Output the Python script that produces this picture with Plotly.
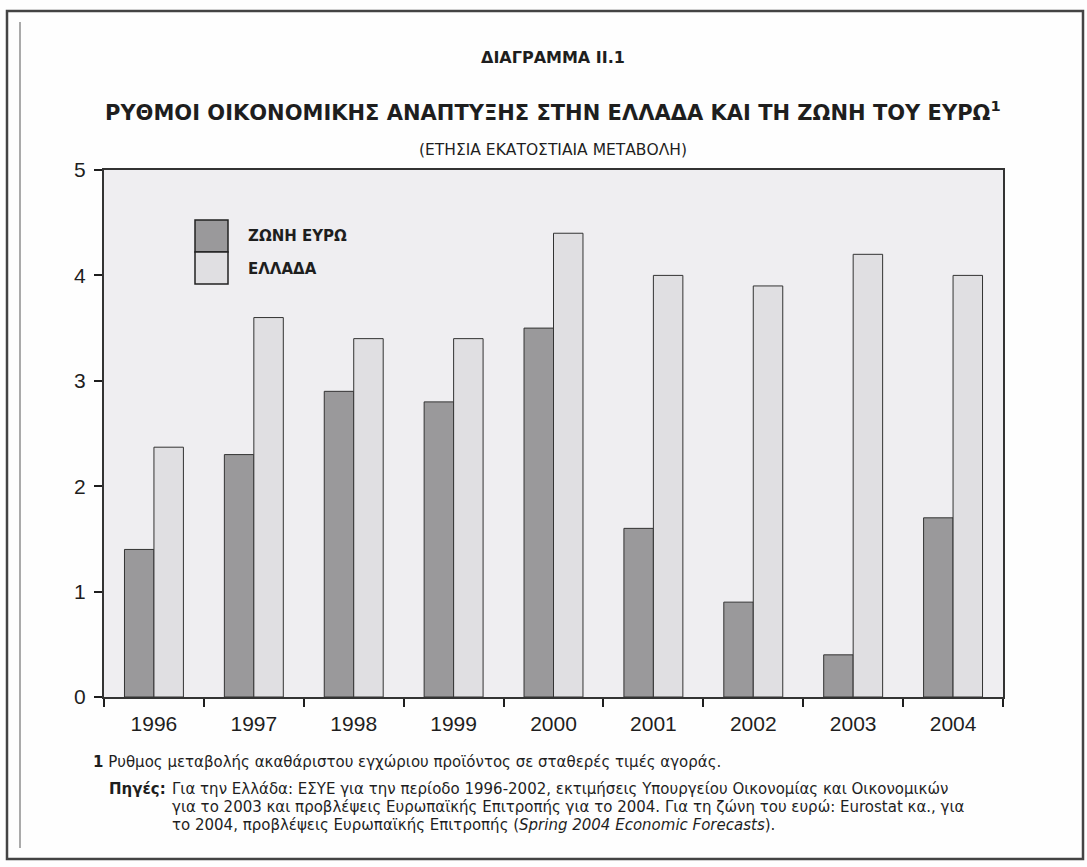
import plotly.graph_objects as go

# Annual real GDP growth, % change
years = ["1996", "1997", "1998", "1999", "2000", "2001", "2002", "2003", "2004"]
euro_area = [1.4, 2.3, 2.9, 2.8, 3.5, 1.6, 0.9, 0.4, 1.7]
greece = [2.37, 3.6, 3.4, 3.4, 4.4, 4.0, 3.9, 4.2, 4.0]
series_names = ["ΖΩΝΗ ΕΥΡΩ", "ΕΛΛΑΔΑ"]
y_ticks = [0, 1, 2, 3, 4, 5]

W, H = 1087, 867
L, R, T, B = 104, 1003, 170, 697  # plot area in pixels

DARK = "#9a999b"
LIGHT = "#e0dfe2"
PLOT_BG = "#efeef1"
INK = "#1e1e1e"


def px(x):
    return (x - L) / (R - L)


def py(y):
    return (B - y) / (B - T)


fig = go.Figure()
fig.add_trace(go.Bar(x=years, y=euro_area, name=series_names[0],
                     marker=dict(color=DARK, line=dict(color="#333333", width=1))))
fig.add_trace(go.Bar(x=years, y=greece, name=series_names[1],
                     marker=dict(color=LIGHT, line=dict(color="#333333", width=1))))

tick_font = dict(family="Liberation Sans, Arial, sans-serif", size=21, color=INK)

fig.update_layout(
    width=W, height=H,
    margin=dict(l=L, r=W - R, t=T, b=H - B),
    paper_bgcolor="#fefefe",
    plot_bgcolor=PLOT_BG,
    showlegend=False,
    barmode="group",
    bargap=0.41,
    bargroupgap=0,
    xaxis=dict(type="category", tickson="boundaries", ticks="outside", ticklen=8,
               tickcolor=INK, tickwidth=1.5, showline=True, linecolor="#333333",
               linewidth=2, mirror=True, showgrid=False, tickfont=tick_font,
               ticklabelstandoff=7),
    yaxis=dict(range=[0, 5], tickvals=y_ticks, ticks="outside", ticklen=8,
               tickcolor=INK, tickwidth=1.5, showline=True, linecolor="#333333",
               linewidth=2, mirror=True, showgrid=False, zeroline=False,
               tickfont=tick_font, ticklabelstandoff=4),
    yaxis2=dict(range=[0, 5], tickvals=y_ticks, overlaying="y", side="right",
                ticks="outside", ticklen=10, tickcolor=INK, tickwidth=1.5,
                showline=False, showgrid=False, zeroline=False,
                tickfont=tick_font, ticklabelstandoff=12),
)

# Outer frame and inner left rule
shapes = [
    dict(type="rect", xref="paper", yref="paper", x0=px(7), x1=px(1083), y0=py(859), y1=py(11),
         line=dict(color="#444444", width=2.5), fillcolor="rgba(0,0,0,0)", layer="below"),
    dict(type="line", xref="paper", yref="paper", x0=px(20), x1=px(20), y0=py(848), y1=py(22),
         line=dict(color="#aaaaaa", width=2)),
]

# Legend swatches stacked in one box
for i, col in enumerate([DARK, LIGHT]):
    y_top = 220 + i * 32
    shapes.append(dict(type="rect", xref="paper", yref="paper",
                       x0=px(195), x1=px(228), y0=py(y_top + 32), y1=py(y_top),
                       fillcolor=col, line=dict(color="#222222", width=1.5)))

fig.update_layout(shapes=shapes)

annotations = []
for i, name in enumerate(series_names):
    annotations.append(dict(xref="paper", yref="paper", x=px(246), y=py(236 + i * 33),
                            text=name, showarrow=False, xanchor="left", yanchor="middle",
                            font=dict(family="DejaVu Sans, sans-serif", size=15, color=INK, weight="bold")))

title_font = "DejaVu Sans, sans-serif"
annotations += [
    dict(xref="paper", yref="paper", x=px(553), y=py(57), text="ΔΙΑΓΡΑΜΜΑ ΙΙ.1",
         showarrow=False, xanchor="center", yanchor="middle",
         font=dict(family=title_font, size=16, color=INK, weight="bold")),
    dict(xref="paper", yref="paper", x=px(553), y=py(111),
         text="ΡΥΘΜΟΙ ΟΙΚΟΝΟΜΙΚΗΣ ΑΝΑΠΤΥΞΗΣ ΣΤΗΝ ΕΛΛΑΔΑ ΚΑΙ ΤΗ ΖΩΝΗ ΤΟΥ ΕΥΡΩ<sup>1</sup>",
         showarrow=False, xanchor="center", yanchor="middle",
         font=dict(family=title_font, size=21, color=INK, weight="bold")),
    dict(xref="paper", yref="paper", x=px(553), y=py(150), text="(ΕΤΗΣΙΑ ΕΚΑΤΟΣΤΙΑΙΑ ΜΕΤΑΒΟΛΗ)",
         showarrow=False, xanchor="center", yanchor="middle",
         font=dict(family=title_font, size=15.5, color=INK)),
]

note_font = dict(family="DejaVu Sans, sans-serif", size=15, color=INK)
annotations += [
    dict(xref="paper", yref="paper", x=px(91), y=py(762), xanchor="left", yanchor="middle",
         showarrow=False, font=note_font,
         text="<b>1</b> Ρυθμος μεταβολής ακαθάριστου εγχώριου προϊόντος σε σταθερές τιμές αγοράς."),
    dict(xref="paper", yref="paper", x=px(107), y=py(789), xanchor="left", yanchor="middle",
         showarrow=False, font=note_font, text="<b>Πηγές:</b>"),
    dict(xref="paper", yref="paper", x=px(170), y=py(789), xanchor="left", yanchor="middle",
         showarrow=False, font=note_font,
         text="Για την Ελλάδα: ΕΣΥΕ για την περίοδο 1996-2002, εκτιμήσεις Υπουργείου Οικονομίας και Οικονομικών"),
    dict(xref="paper", yref="paper", x=px(170), y=py(807), xanchor="left", yanchor="middle",
         showarrow=False, font=note_font,
         text="για το 2003 και προβλέψεις Ευρωπαϊκής Επιτροπής για το 2004. Για τη ζώνη του ευρώ: Eurostat κα., για"),
    dict(xref="paper", yref="paper", x=px(170), y=py(825), xanchor="left", yanchor="middle",
         showarrow=False, font=note_font,
         text="το 2004, προβλέψεις Ευρωπαϊκής Επιτροπής (<i>Spring 2004 Economic Forecasts</i>)."),
]
fig.update_layout(annotations=annotations)

fig.write_html("out.html")
